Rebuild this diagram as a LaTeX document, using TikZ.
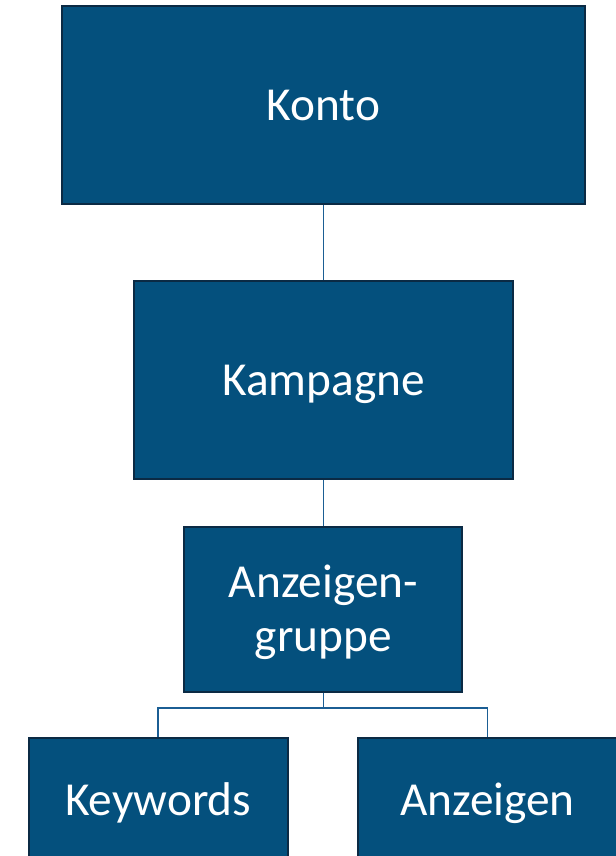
\documentclass[tikz,border=0pt]{standalone}
\usepackage{fontspec}
\setmainfont{Carlito}
\usepackage{xcolor}
\usepackage{tikz}
\usetikzlibrary{positioning, calc}

\definecolor{boxfill}{HTML}{04507D}
\definecolor{boxline}{HTML}{0B2A44}
\definecolor{linkblue}{HTML}{1B5E94}

\begin{document}
\begin{tikzpicture}[
    level/.style={rectangle, draw=boxline, fill=boxfill, line width=1.5pt, text=white, align=center,
        font=\fontsize{35.5pt}{40.5pt}\selectfont, text height=22.5pt, text depth=0pt, inner sep=0pt},
    link/.style={draw=linkblue, line width=1.2pt},
    node distance=34.5pt
]
    \clip (0,0) rectangle (462pt,-642pt);

    % Hierarchy
    \node[level, minimum width=392.25pt, minimum height=148.5pt] (konto) at (242.6pt,-78.75pt) {Konto};
    \node[level, minimum width=284.25pt, minimum height=148.5pt, below=56.25pt of konto] (kampagne) {Kampagne};
    \node[level, minimum width=208.5pt, minimum height=123.5pt, text height=63pt, below=of kampagne] (gruppe) {Anzeigen-\\gruppe};

    % Leaves
    \node[level, minimum width=194.25pt, minimum height=93pt, below=33.5pt of gruppe, xshift=-124pt] (keywords) {Keywords};
    \node[level, minimum width=194.25pt, minimum height=93pt, below=33.5pt of gruppe, xshift=123pt] (anzeigen) {Anzeigen};

    % Connectors
    \draw[link] (konto) -- (kampagne);
    \draw[link] (kampagne) -- (gruppe);
    \draw[link] (gruppe.south) -- ++(0,-11.5pt) -| (keywords.north);
    \draw[link] (gruppe.south) -- ++(0,-11.5pt) -| (anzeigen.north);
\end{tikzpicture}
\end{document}
